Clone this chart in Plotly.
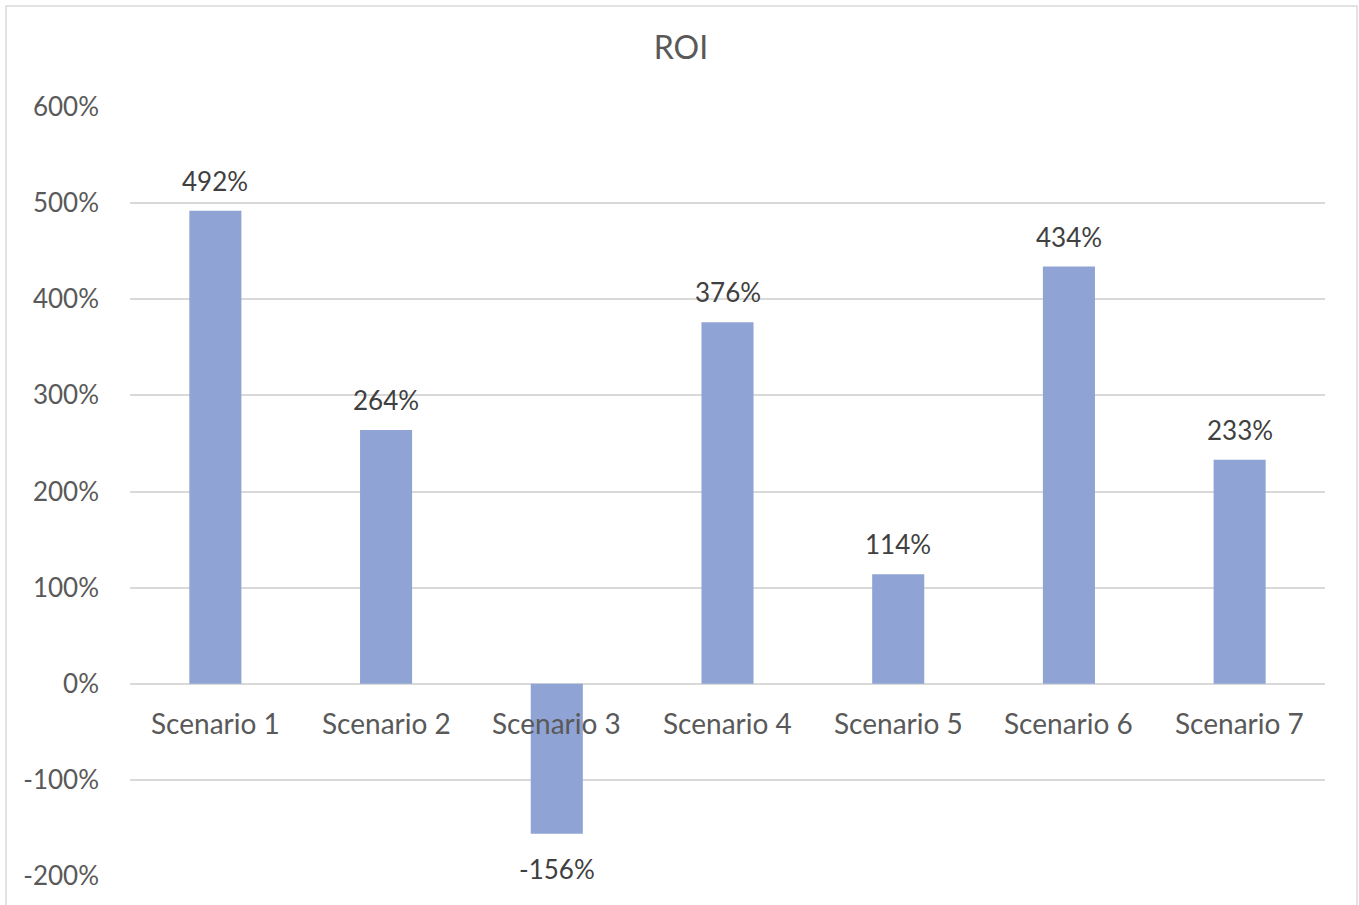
import plotly.graph_objects as go

categories = ["Scenario 1", "Scenario 2", "Scenario 3", "Scenario 4", "Scenario 5", "Scenario 6", "Scenario 7"]
roi_values = [4.92, 2.64, -1.56, 3.76, 1.14, 4.34, 2.33]
tick_values = [-2, -1, 0, 1, 2, 3, 4, 5, 6]
tick_labels = ["-200%", "-100%", "0%", "100%", "200%", "300%", "400%", "500%", "600%"]

FONT = "Lato, 'Open Sans', sans-serif"
W, H = 1359, 905
L, R, T, B = 130, 34, 107, 29

fig = go.Figure(
    go.Bar(
        x=categories,
        y=roi_values,
        marker=dict(color="#8FA4D5", line=dict(width=0)),
        cliponaxis=False,
        hoverinfo="x+y",
    )
)

# data labels
for c, v in zip(categories, roi_values):
    fig.add_annotation(
        x=c, y=v, xref="x", yref="y", text=f"{v*100:.0f}%", showarrow=False,
        yanchor="bottom" if v >= 0 else "top",
        yshift=12 if v >= 0 else -17,
        font=dict(family=FONT, size=26, color="#404040"),
    )

# category labels at the zero line
for c in categories:
    fig.add_annotation(
        x=c, y=0, xref="x", yref="y", text=c, showarrow=False,
        yanchor="top", yshift=-20,
        font=dict(family=FONT, size=28, color="#595959"),
    )

pw, ph = W - L - R, H - T - B
fig.add_shape(
    type="rect", xref="paper", yref="paper",
    x0=(6 - L) / pw, x1=(1357 - L) / pw,
    y0=(H - B - 920) / ph, y1=(H - B - 6) / ph,
    line=dict(color="#D9D9D9", width=1.5), fillcolor="rgba(0,0,0,0)", layer="below",
)

fig.update_layout(
    width=W, height=H,
    margin=dict(l=L, r=R, t=T, b=B),
    paper_bgcolor="white", plot_bgcolor="white",
    showlegend=False,
    bargap=0.695,
    title=dict(text="ROI", x=681 / W, xref="container", xanchor="center", y=1 - 48 / H, yref="container",
               yanchor="middle", font=dict(family=FONT, size=32, color="#595959")),
    xaxis=dict(showticklabels=False, showgrid=False, showline=False, zeroline=False, ticks=""),
    yaxis=dict(range=[-2, 6], tickvals=tick_values, ticktext=tick_labels,
               showgrid=True, gridcolor="#D9D9D9", gridwidth=1.5,
               zeroline=True, zerolinecolor="#D9D9D9", zerolinewidth=1.5,
               showline=False, ticks="", ticklabelstandoff=30,
               tickfont=dict(family=FONT, size=26, color="#595959")),
)

fig.write_html("out.html")
